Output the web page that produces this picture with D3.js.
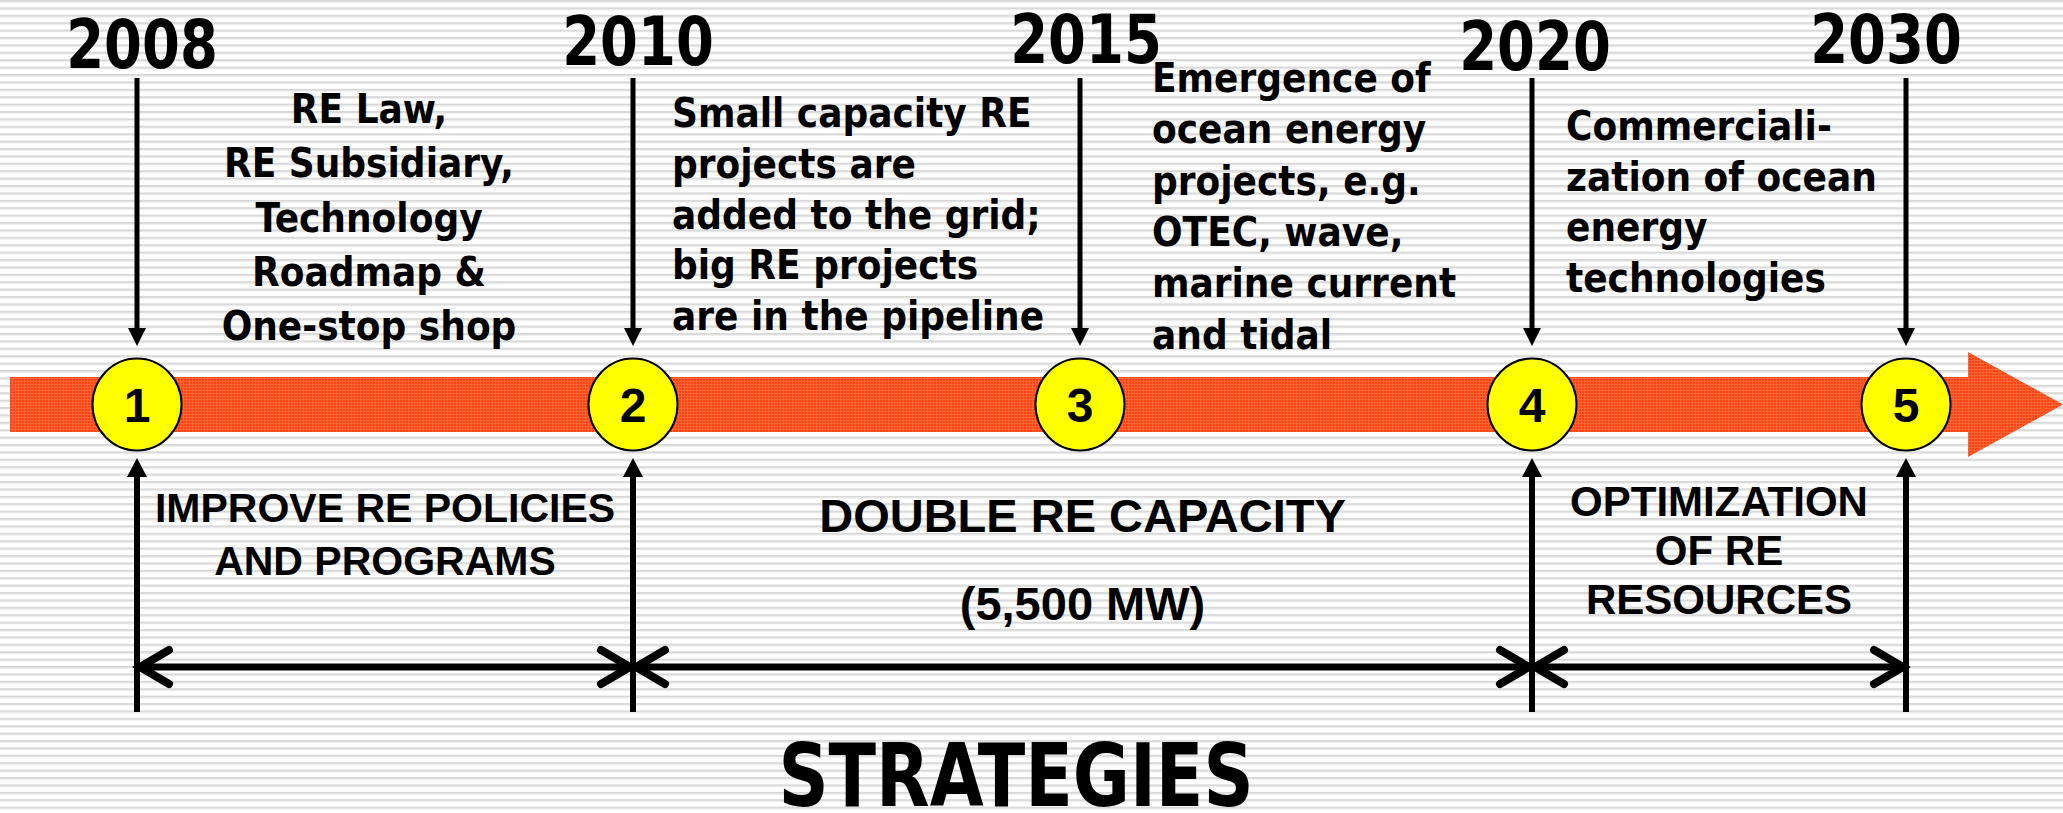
<!DOCTYPE html>
<html lang="en">
<head>
<meta charset="UTF-8">
<title>RE Roadmap</title>
<script src="https://d3js.org/d3.v7.min.js"></script>
<style>
  html, body { margin: 0; padding: 0; background: #fff; overflow: hidden; }
  svg { display: block; }
</style>
</head>
<body>
<div id="chart"></div>
<script>
// ---- data ----
const years = ["2008", "2010", "2015", "2020", "2030"];
const steps = ["1", "2", "3", "4", "5"];

// notes sit between two consecutive years
const notes = [
  ["RE Law,", "RE Subsidiary,", "Technology", "Roadmap &", "One-stop shop"],
  ["Small capacity RE", "projects are", "added to the grid;", "big RE projects", "are in the pipeline"],
  ["Emergence of", "ocean energy", "projects, e.g.", "OTEC, wave,", "marine current", "and tidal"],
  ["Commerciali-", "zation of ocean", "energy", "technologies"]
];

const phaseFrom = ["2008", "2010", "2020"];
const phaseTo = ["2010", "2020", "2030"];
const phaseLabels = [
  ["IMPROVE RE POLICIES", "AND PROGRAMS"],
  ["DOUBLE RE CAPACITY", "", "(5,500 MW)"],
  ["OPTIMIZATION", "OF RE", "RESOURCES"]
];
const title = "STRATEGIES";

// ---- layout ----
const W = 2063, H = 813;
const x = d3.scaleOrdinal().domain(years).range([137, 633, 1080, 1532, 1906]);
const yearDx = [5, 5, 6, 3, -20];
const yearBase = [68, 65, 63, 70, 63];
const noteLayout = [
  { anchor: "middle", x: 369, y: 123, lh: 54.3 },
  { anchor: "start", x: 672, y: 127, lh: 50.8 },
  { anchor: "start", x: 1152, y: 92, lh: 51.3 },
  { anchor: "start", x: 1566, y: 140, lh: 50.5 }
];
const phaseLayout = [
  { y: 522, lh: 53, size: 41 },
  { y: 532, lh: 44, size: 47 },
  { y: 516, lh: 49, size: 42 }
];
const barY = 404.5, barH = 55, barX0 = 10, headX = 1968, headTip = 2063, headHalf = 52.5;
const condensed = "'DejaVu Sans Condensed', 'DejaVu Sans', sans-serif";
const arial = "'Liberation Sans', Arial, sans-serif";

const svg = d3.select("#chart").append("svg")
  .attr("width", W)
  .attr("height", H);

const defs = svg.append("defs");

// striped background
const stripes = defs.append("pattern")
  .attr("id", "stripes")
  .attr("patternUnits", "userSpaceOnUse")
  .attr("width", 20).attr("height", 7.4);
stripes.append("rect").attr("width", 20).attr("height", 7.4).attr("fill", "#ffffff");
stripes.append("rect").attr("y", 0).attr("width", 20).attr("height", 1.8).attr("fill", "#d8d8d8");
stripes.append("rect").attr("y", 1.8).attr("width", 20).attr("height", 1).attr("fill", "#ededed");

// textured orange for the arrow
const tex = defs.append("pattern")
  .attr("id", "tex")
  .attr("patternUnits", "userSpaceOnUse")
  .attr("width", 3).attr("height", 3);
tex.append("rect").attr("width", 3).attr("height", 3).attr("fill", "#ff420e");
tex.append("rect").attr("width", 3).attr("height", 1).attr("fill", "#ff6438");
tex.append("rect").attr("width", 1).attr("height", 3).attr("fill", "#ff6438");

svg.append("rect").attr("width", W).attr("height", H).attr("fill", "url(#stripes)");

// big timeline arrow
svg.append("path")
  .attr("d", d3.line()([
    [barX0, barY - barH / 2], [headX, barY - barH / 2], [headX, barY - headHalf],
    [headTip, barY], [headX, barY + headHalf], [headX, barY + barH / 2],
    [barX0, barY + barH / 2]
  ]) + "Z")
  .attr("fill", "url(#tex)");

function textBlock(parent, lines, o) {
  const g = parent.append("g")
    .attr("transform", `translate(${o.x},${o.y}) scale(${o.sx || 1},1)`);
  g.selectAll("text")
    .data(lines)
    .join("text")
    .attr("x", 0)
    .attr("y", (d, i) => i * (o.lh || 0))
    .attr("text-anchor", o.anchor || "start")
    .attr("font-family", o.font)
    .attr("font-size", o.size)
    .attr("font-weight", "bold")
    .attr("fill", "#000")
    .text(d => d);
  return g;
}

// year labels
years.forEach((yr, i) => {
  textBlock(svg, [yr], {
    x: x(yr) + yearDx[i], y: yearBase[i], anchor: "middle",
    font: condensed, size: 68, sx: 0.89
  });
});

// down arrows from years to the circles
const downTop = 78, downTip = 346;
const down = svg.append("g");
years.forEach(yr => {
  const cx = x(yr);
  down.append("line")
    .attr("x1", cx).attr("x2", cx)
    .attr("y1", downTop).attr("y2", downTip - 14)
    .attr("stroke", "#000").attr("stroke-width", 5);
  down.append("path")
    .attr("d", d3.line()([[cx - 9, downTip - 18], [cx + 9, downTip - 18], [cx, downTip]]) + "Z")
    .attr("fill", "#000");
});

// notes
notes.forEach((lines, i) => {
  const o = noteLayout[i];
  textBlock(svg, lines, { x: o.x, y: o.y, lh: o.lh, anchor: o.anchor, font: condensed, size: 40 });
});

// circles
const nodes = svg.append("g").selectAll("g")
  .data(years)
  .join("g")
  .attr("transform", d => `translate(${x(d)},${barY})`);
nodes.append("ellipse")
  .attr("rx", 44.5)
  .attr("ry", 46)
  .attr("fill", "#ffff00")
  .attr("stroke", "#000")
  .attr("stroke-width", 2);
nodes.append("text")
  .attr("y", 17)
  .attr("text-anchor", "middle")
  .attr("font-family", arial)
  .attr("font-weight", "bold")
  .attr("font-size", 48)
  .text((d, i) => steps[i]);

// up arrows at phase boundaries
const bounds = Array.from(new Set(phaseFrom.concat(phaseTo)));
const upTip = 458, upBottom = 712;
const up = svg.append("g");
bounds.forEach(yr => {
  const cx = x(yr);
  up.append("line")
    .attr("x1", cx).attr("x2", cx)
    .attr("y1", upTip + 14).attr("y2", upBottom)
    .attr("stroke", "#000").attr("stroke-width", 6);
  up.append("path")
    .attr("d", d3.line()([[cx - 10, upTip + 19], [cx + 10, upTip + 19], [cx, upTip]]) + "Z")
    .attr("fill", "#000");
});

// phase spans
const spanY = 667;
phaseFrom.forEach((from, i) => {
  const x1 = x(from), x2 = x(phaseTo[i]);
  const g = svg.append("g")
    .attr("stroke", "#000").attr("fill", "none");
  g.append("line")
    .attr("x1", x1 + 2).attr("x2", x2 - 2)
    .attr("y1", spanY).attr("y2", spanY)
    .attr("stroke-width", 7);
  g.append("path")
    .attr("d", d3.line()([[x1 + 32, spanY - 17], [x1 + 3, spanY], [x1 + 32, spanY + 17]]))
    .attr("stroke-width", 8).attr("stroke-linecap", "round");
  g.append("path")
    .attr("d", d3.line()([[x2 - 32, spanY - 17], [x2 - 3, spanY], [x2 - 32, spanY + 17]]))
    .attr("stroke-width", 8).attr("stroke-linecap", "round");

  const o = phaseLayout[i];
  textBlock(svg, phaseLabels[i], {
    x: (x1 + x2) / 2, y: o.y, lh: o.lh, anchor: "middle", font: arial, size: o.size
  });
});

// title
textBlock(svg, [title], { x: 1016, y: 806, anchor: "middle", font: condensed, size: 87, sx: 0.89 });
</script>
</body>
</html>
